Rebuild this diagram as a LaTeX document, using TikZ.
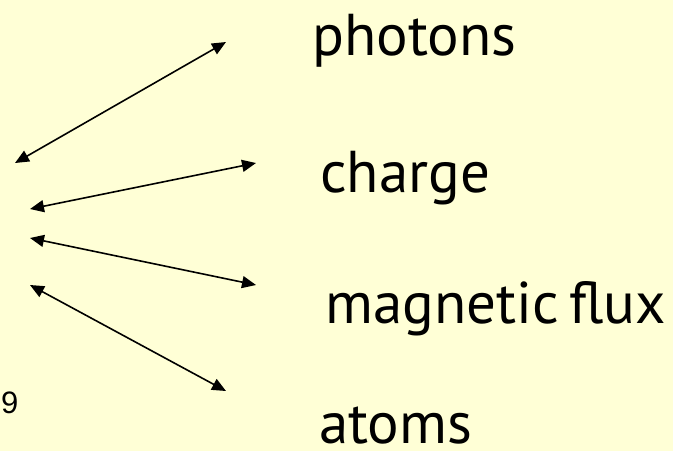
\documentclass[tikz,border=0pt]{standalone}
\usepackage{fontspec}
\setmainfont{PT Sans}
\newfontfamily\numfont{Liberation Sans}
\usetikzlibrary{arrows.meta}
\definecolor{bgyellow}{RGB}{255,255,214}
\begin{document}
\begin{tikzpicture}[x=1pt,y=-1pt,
  lbl/.style={anchor=base west,inner sep=0pt,font=\fontsize{59}{61}\selectfont},
  biarrow/.style={line width=1.6pt,{Triangle[length=14pt,width=12pt]}-{Triangle[length=14pt,width=12pt]}}]
\fill[bgyellow] (0,0) rectangle (673,451);
\useasboundingbox (0,0) rectangle (673,451);
\node[lbl] (ph) at (312,55) {photons};
\node[lbl] (ch) at (320,192) {charge};
\node[lbl] (mf) at (325,323) {magnetic\hspace{0.18em}flux};
\node[lbl] (at) at (319,443) {atoms};
\node[anchor=base west,inner sep=0pt,font=\numfont\fontsize{31}{33}\selectfont] (pg) at (1,413) {9};
\coordinate (a1l) at (15,163); \coordinate (a1r) at (226,42);
\coordinate (a2l) at (30,209); \coordinate (a2r) at (256,163);
\coordinate (a3l) at (30,238); \coordinate (a3r) at (256,285);
\coordinate (a4l) at (30,285); \coordinate (a4r) at (226,391);
\draw[biarrow] (a1l) -- (a1r);
\draw[biarrow] (a2l) -- (a2r);
\draw[biarrow] (a3l) -- (a3r);
\draw[biarrow] (a4l) -- (a4r);
\end{tikzpicture}
\end{document}
